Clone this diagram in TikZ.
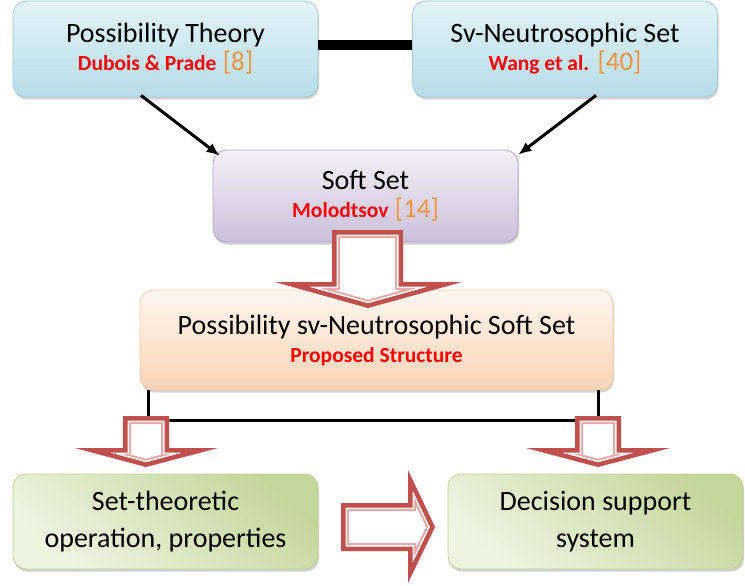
\documentclass[tikz,border=0pt]{standalone}
\usepackage{fontspec}
\setmainfont{Carlito}
\usetikzlibrary{shadows,arrows.meta}

\definecolor{bluetop}{HTML}{E4F3F9}
\definecolor{bluebot}{HTML}{B7DDE8}
\definecolor{blueedge}{HTML}{A5CCD8}
\definecolor{purpletop}{HTML}{F4F1F8}
\definecolor{purplebot}{HTML}{CBBFDB}
\definecolor{purpleedge}{HTML}{B3A6C9}
\definecolor{orangetop}{HTML}{FFF7F0}
\definecolor{orangebot}{HTML}{FAD3B6}
\definecolor{orangeedge}{HTML}{F8CBA8}
\definecolor{greenlight}{HTML}{EEF4E2}
\definecolor{greendark}{HTML}{C4D79B}
\definecolor{greenedge}{HTML}{BFD296}
\definecolor{arrowred}{HTML}{C0504D}
\definecolor{pinkline}{HTML}{E2AAA8}
\definecolor{refnum}{HTML}{F79646}

\newcommand{\who}[1]{{\fontsize{21.5}{28}\selectfont\bfseries\color{red}#1}}
\newcommand{\refno}[1]{{\fontsize{27}{28}\selectfont\color{refnum}[#1]}}
\newcommand{\hollowarrow}[1]{%
  \fill[white] #1;
  \begin{scope}
    \clip #1;
    \draw[line width=16pt,pinkline,line join=miter] #1;
    \draw[line width=12pt,white,line join=miter] #1;
    \draw[line width=9pt,arrowred,line join=miter] #1;
  \end{scope}}

\tikzset{
  box/.style={rounded corners=13pt,minimum width=305pt,minimum height=96pt,
    align=center,line width=0.8pt,font=\fontsize{28}{28}\selectfont,
    drop shadow={shadow xshift=1pt,shadow yshift=-2.5pt,opacity=0.3,fill=black!60}},
  bluebox/.style={box,draw=blueedge,top color=bluetop,bottom color=bluebot},
  purplebox/.style={box,draw=purpleedge,top color=purpletop,bottom color=purplebot},
  orangebox/.style={box,draw=orangeedge,top color=orangetop,bottom color=orangebot},
  greenbox/.style={box,draw=greenedge,top color=greendark,bottom color=greenlight,
    shading angle=-40,font=\fontsize{28}{37}\selectfont},
  link/.style={line width=3pt,black},
}

\begin{document}
\begin{tikzpicture}[x=1pt,y=-1pt]
\useasboundingbox (0,0) rectangle (745,586);
%boxes
\node[bluebox] (pt) at (165.5,49) {Possibility Theory\\\who{Dubois \& Prade} \refno{8}};
\node[bluebox] (svn) at (565,49) {Sv-Neutrosophic Set\\\who{Wang et al.} \refno{40}};
\node[purplebox,minimum height=92pt] (ss) at (365.5,196) {Soft Set\\\who{Molodtsov} \refno{14}};
\node[orangebox,minimum width=473pt,minimum height=100pt] (psnss) at (376.5,340)
  {Possibility sv-Neutrosophic Soft Set\\\who{Proposed Structure}};
\node[greenbox,minimum height=95pt] (op) at (165.5,521.5) {Set-theoretic\\operation, properties};
\node[greenbox,minimum width=295pt,minimum height=95pt] (dss) at (595.5,521.5) {Decision support\\system};
%links
\draw[line width=10pt] ([yshift=4pt]pt.east)--([yshift=4pt]svn.west);
\draw[link,-{Latex[length=13pt,width=11pt]}] ([xshift=-24.5pt,yshift=2pt]pt.south)--([xshift=7pt,yshift=-6pt]ss.north west);
\draw[link,-{Latex[length=13pt,width=11pt]}] ([xshift=31pt,yshift=2pt]svn.south)--([xshift=0pt,yshift=-5pt]ss.north east);
\coordinate (fork) at (374,420);
\draw[link] ([xshift=9pt]psnss.south west) |- (fork) -| ([xshift=-15pt]psnss.south east);
%hollow arrows
\hollowarrow{(332,230)--(403,230)--(403,282)--(462,282)--(368,308)--(275,282)--(332,282)--cycle}
\hollowarrow{(123,416)--(169,416)--(169,448)--(218,448)--(146,467)--(75,448)--(123,448)--cycle}
\hollowarrow{(575,416)--(621,416)--(621,448)--(670,448)--(598,467)--(526,448)--(575,448)--cycle}
\hollowarrow{(341,503)--(408,503)--(408,470)--(435,527)--(408,583)--(408,551)--(341,551)--cycle}
\end{tikzpicture}
\end{document}
